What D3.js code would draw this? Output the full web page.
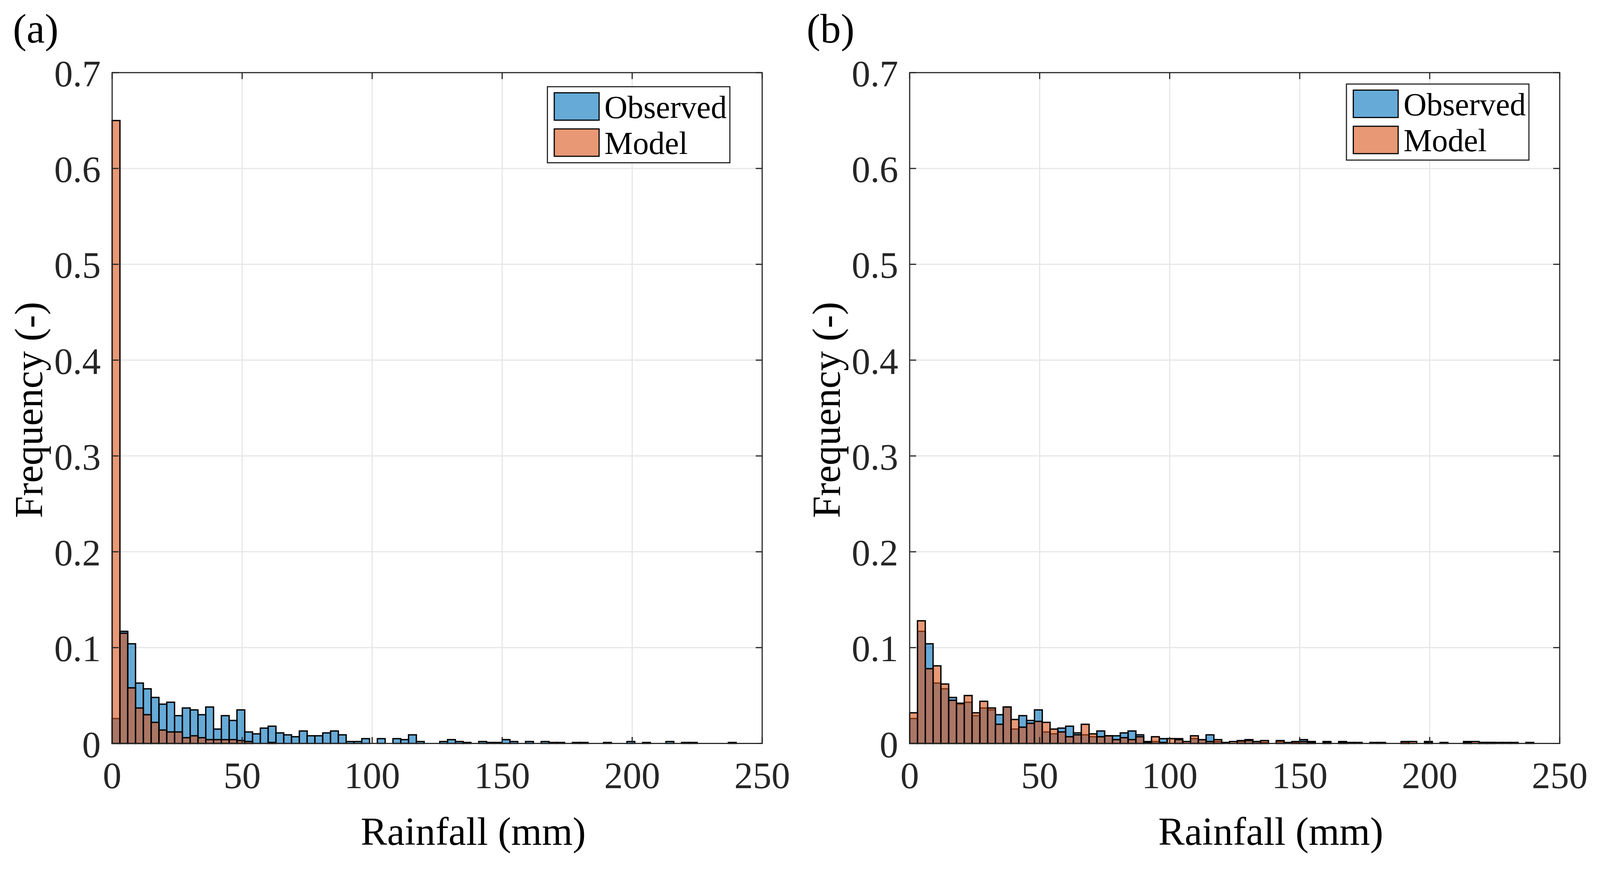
<!DOCTYPE html>
<html><head><meta charset="utf-8">
<script src="https://cdn.jsdelivr.net/npm/d3@7"></script>
<style>html,body{margin:0;background:#fff;overflow:hidden}svg{display:block}</style>
</head><body><div id="chart"></div>
<script>
// histogram bins are 3 mm wide, starting at 0
var binWidth = 3;
var observed = [0.026,0.117,0.104,0.063,0.057,0.048,0.041,0.043,0.029,0.037,0.035,0.030,0.038,0.015,0.029,0.024,0.035,0.012,0.010,0.016,
  0.018,0.011,0.009,0.007,0.013,0.008,0.008,0.011,0.013,0.009,0.002,0.002,0.005,0,0.005,0,0.005,0.004,0.009,0.002,
  0,0,0.002,0.004,0.002,0.001,0,0.002,0.001,0.001,0.004,0.002,0,0.002,0,0.002,0.001,0.001,0,0.001,
  0.001,0,0,0.001,0,0,0.002,0,0.001,0,0,0.002,0,0.001,0.001,0,0,0,0,0.001];
var modelA = [0.65,0.115,0.058,0.037,0.030,0.022,0.014,0.012,0.012,0.006,0.008,0.006,0.004,0.004,0.004,0.004,0.003,0.002,0,0,0.001];
var modelB = [0.032,0.128,0.078,0.081,0.062,0.045,0.042,0.050,0.032,0.044,0.037,0.020,0.038,0.025,0.017,0.021,0.023,0.022,0.015,0.012,
  0.007,0.009,0.020,0.010,0.007,0.008,0.004,0.006,0.004,0.007,0.001,0.007,0.001,0.005,0.004,0.002,0.008,0.004,0.002,0.004,
  0.001,0.002,0.003,0.003,0.002,0.003,0,0.003,0,0.002,0.002,0.001,0,0.001,0,0.001,0,0,0,0,
  0,0,0,0.002,0.002,0,0.001,0,0,0,0,0.001,0.002,0.001,0.001,0.001,0.001,0.001];
var xTicks = [0,50,100,150,200,250];
var yTicks = [0,0.1,0.2,0.3,0.4,0.5,0.6,0.7];
var seriesNames = ["Observed","Model"];
var seriesColors = ["#0072BD","#D95319"];

var W = 4209, H = 2275;
// scale to the real window so nothing is cut at the right edge
var vw = Math.min(window.innerWidth || W, W);
var svg = d3.select("#chart").append("svg")
  .attr("width", vw).attr("height", vw * H / W)
  .attr("viewBox", "0 0 " + W + " " + H)
  .style("font-family", "'Liberation Serif','Times New Roman',serif");

var panels = [
  {label:"(a)", model:modelA, left:295, labelX:34, legendRight:1920, legendTop:228},
  {label:"(b)", model:modelB, left:2393, labelX:2122, legendRight:4022, legendTop:221}
];
var pw = 1710, plotTop = 191, plotBottom = 1955;

panels.forEach(function(p){
  var x = d3.scaleLinear().domain([0,250]).range([p.left, p.left+pw]);
  var y = d3.scaleLinear().domain([0,0.7]).range([plotBottom, plotTop]);
  var g = svg.append("g");

  // grid
  g.selectAll(".gx").data(xTicks.slice(1,-1)).enter().append("line")
    .attr("x1", x).attr("x2", x).attr("y1", plotTop).attr("y2", plotBottom)
    .attr("stroke", "#e6e6e6").attr("stroke-width", 3);
  g.selectAll(".gy").data(yTicks.slice(1,-1)).enter().append("line")
    .attr("y1", y).attr("y2", y).attr("x1", p.left).attr("x2", p.left+pw)
    .attr("stroke", "#e6e6e6").attr("stroke-width", 3);

  [observed, p.model].forEach(function(vals, si){
    var data = vals.map(function(v,i){ return {i:i, v:v}; }).filter(function(d){ return d.v > 0; });
    g.append("g").selectAll("rect").data(data).enter().append("rect")
      .attr("x", function(d){ return x(d.i*binWidth); })
      .attr("width", x(binWidth) - x(0))
      .attr("y", function(d){ return y(d.v); })
      .attr("height", function(d){ return y(0) - y(d.v); })
      .attr("fill", seriesColors[si]).attr("fill-opacity", 0.6)
      .attr("stroke", "#000").attr("stroke-width", 3.5);
  });

  // box + ticks
  g.append("rect").attr("x", p.left).attr("y", plotTop).attr("width", pw).attr("height", plotBottom-plotTop)
    .attr("fill", "none").attr("stroke", "#262626").attr("stroke-width", 3);
  var tl = 17;
  xTicks.forEach(function(t){
    g.append("line").attr("x1", x(t)).attr("x2", x(t)).attr("y1", plotBottom).attr("y2", plotBottom-tl).attr("stroke","#262626").attr("stroke-width",3);
    g.append("line").attr("x1", x(t)).attr("x2", x(t)).attr("y1", plotTop).attr("y2", plotTop+tl).attr("stroke","#262626").attr("stroke-width",3);
    g.append("text").attr("x", x(t)).attr("y", plotBottom+118).attr("text-anchor","middle")
      .attr("font-size", 98).attr("fill","#262626").text(t);
  });
  yTicks.forEach(function(t){
    g.append("line").attr("y1", y(t)).attr("y2", y(t)).attr("x1", p.left).attr("x2", p.left+tl).attr("stroke","#262626").attr("stroke-width",3);
    g.append("line").attr("y1", y(t)).attr("y2", y(t)).attr("x1", p.left+pw).attr("x2", p.left+pw-tl).attr("stroke","#262626").attr("stroke-width",3);
    g.append("text").attr("x", p.left-30).attr("y", y(t)+36).attr("text-anchor","end")
      .attr("font-size", 98).attr("fill","#262626").text(t === 0 ? "0" : d3.format(".1f")(t));
  });

  g.append("text").attr("x", p.left+pw/2+95).attr("y", 2222).attr("text-anchor","middle")
    .attr("font-size", 104).attr("fill","#000").text("Rainfall (mm)");
  g.append("text").attr("transform", "translate(" + (p.left-220) + "," + ((plotTop+plotBottom)/2 + 5) + ") rotate(-90)")
    .attr("dy", "0.35em").attr("text-anchor","middle").attr("font-size", 104).attr("fill","#000").text("Frequency (-)");
  g.append("text").attr("x", p.labelX).attr("y", 112).attr("font-size", 108).text(p.label);

  // legend
  var lw = 480, lh = 200, lx = p.legendRight - lw, ly = p.legendTop;
  g.append("rect").attr("x", lx).attr("y", ly).attr("width", lw).attr("height", lh)
    .attr("fill","#fff").attr("stroke","#262626").attr("stroke-width",3);
  seriesNames.forEach(function(n, i){
    var yy = ly + 16 + i*95;
    g.append("rect").attr("x", lx+18).attr("y", yy).attr("width", 118).attr("height", 72)
      .attr("fill", seriesColors[i]).attr("fill-opacity", 0.6).attr("stroke","#000").attr("stroke-width",3);
    g.append("text").attr("x", lx+150).attr("y", yy+66).attr("font-size", 84).attr("fill","#000").text(n);
  });
});
</script></body></html>
